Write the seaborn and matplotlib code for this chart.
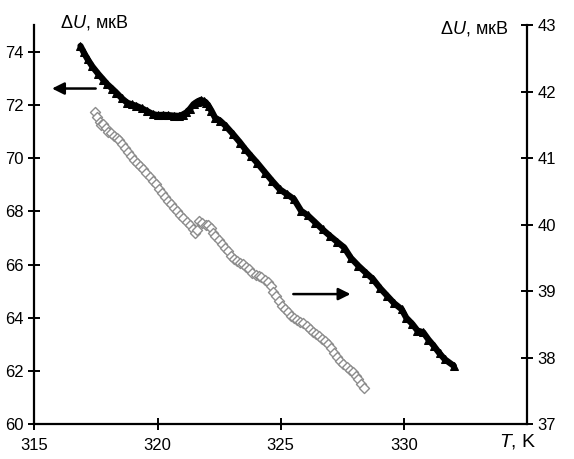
import matplotlib
matplotlib.use("Agg")
import matplotlib.pyplot as plt
import seaborn as sns
import pandas as pd

# ================================
# 1. Data
# ================================
# black triangles -> left axis
t_left = [316.87, 317.00, 317.16, 317.35, 317.60, 317.80, 317.96, 318.15, 318.32, 318.55,
          318.76, 318.95, 319.13, 319.35, 319.56, 319.80, 320.00, 320.22, 320.44, 320.65,
          320.87, 321.02, 321.17, 321.32, 321.46, 321.60, 321.75, 321.88, 321.97, 322.08,
          322.19, 322.33, 322.55, 322.77, 323.05, 323.35, 323.55, 323.79, 324.05, 324.37,
          324.65, 324.96, 325.25, 325.54, 325.83, 326.10, 326.41, 326.70, 327.00, 327.30,
          327.58, 327.85, 328.16, 328.45, 328.75, 329.05, 329.33, 329.60, 329.91, 330.10,
          330.35, 330.55, 330.79, 331.00, 331.22, 331.45, 331.66, 332.03]
u_left = [74.22, 73.98, 73.72, 73.45, 73.16, 72.95, 72.78, 72.62, 72.47, 72.25,
          72.09, 72.02, 71.97, 71.88, 71.78, 71.66, 71.62, 71.63, 71.62, 71.60,
          71.59, 71.64, 71.72, 71.86, 72.03, 72.12, 72.19, 72.15, 72.09, 71.95,
          71.78, 71.53, 71.40, 71.21, 70.92, 70.59, 70.35, 70.09, 69.82, 69.46,
          69.15, 68.83, 68.65, 68.46, 68.02, 67.85, 67.58, 67.32, 67.08, 66.85,
          66.64, 66.25, 65.95, 65.70, 65.45, 65.10, 64.82, 64.55, 64.32, 64.00,
          63.76, 63.52, 63.45, 63.18, 62.94, 62.66, 62.44, 62.19]

# open grey diamonds -> right axis
t_right = [317.45, 317.55, 317.65, 317.72, 317.80, 317.90, 318.00, 318.10, 318.22, 318.35,
           318.45, 318.55, 318.68, 318.80, 318.92, 319.05, 319.18, 319.30, 319.42, 319.55,
           319.68, 319.80, 319.92, 320.05, 320.18, 320.30, 320.42, 320.55, 320.68, 320.80,
           320.92, 321.05, 321.18, 321.30, 321.42, 321.52, 321.60, 321.70, 321.82, 321.95,
           322.05, 322.15, 322.25, 322.35, 322.48, 322.60, 322.72, 322.85, 322.98, 323.10,
           323.22, 323.35, 323.48, 323.60, 323.72, 323.85, 323.98, 324.10, 324.22, 324.35,
           324.48, 324.60, 324.70, 324.80, 324.92, 325.05, 325.18, 325.30, 325.42, 325.55,
           325.68, 325.80, 325.92, 326.05, 326.18, 326.30, 326.42, 326.55, 326.68, 326.80,
           326.92, 327.05, 327.18, 327.30, 327.42, 327.55, 327.68, 327.80, 327.92, 328.05,
           328.15, 328.25, 328.37]
u_right = [41.69, 41.62, 41.55, 41.50, 41.52, 41.45, 41.40, 41.38, 41.34, 41.30,
           41.27, 41.21, 41.16, 41.09, 41.04, 40.98, 40.93, 40.88, 40.84, 40.78,
           40.71, 40.66, 40.61, 40.54, 40.48, 40.41, 40.35, 40.31, 40.25, 40.21,
           40.15, 40.10, 40.04, 39.99, 39.93, 39.88, 39.92, 40.06, 40.03, 40.00,
           39.99, 39.95, 39.88, 39.83, 39.77, 39.71, 39.65, 39.60, 39.53, 39.49,
           39.46, 39.43, 39.41, 39.37, 39.33, 39.28, 39.25, 39.23, 39.21, 39.17,
           39.14, 39.08, 38.99, 38.92, 38.85, 38.78, 38.73, 38.68, 38.63, 38.59,
           38.56, 38.54, 38.52, 38.48, 38.43, 38.39, 38.36, 38.32, 38.28, 38.25,
           38.20, 38.14, 38.07, 38.01, 37.95, 37.90, 37.86, 37.82, 37.78, 37.73,
           37.68, 37.61, 37.55]

x_ticks = [315, 320, 325, 330]
left_ticks = [60, 62, 64, 66, 68, 70, 72, 74]
right_ticks = [37, 38, 39, 40, 41, 42, 43]

df_left = pd.DataFrame({"T": t_left, "U": u_left})
df_right = pd.DataFrame({"T": t_right, "U": u_right})

# ================================
# 2. Style
# ================================
sns.set_style("ticks")
plt.rcParams["font.family"] = ["Liberation Sans", "DejaVu Sans"]
plt.rcParams["mathtext.fontset"] = "custom"
plt.rcParams["mathtext.rm"] = "Liberation Sans"
plt.rcParams["mathtext.it"] = "Liberation Sans:italic"
plt.rcParams["text.color"] = "black"
fs = 12

fig = plt.figure(figsize=(5.74, 4.59), dpi=100)
ax = fig.add_axes([0.06, 0.076, 0.858, 0.869])
ax2 = ax.twinx()

# ================================
# 3. Plot
# ================================
sns.lineplot(data=df_left, x="T", y="U", ax=ax, color="black", lw=4.5,
             marker="^", markersize=5.5, markeredgecolor="black", sort=False)
sns.scatterplot(data=df_right, x="T", y="U", ax=ax2, marker="D", s=26,
                facecolor="white", edgecolor="#8c8c8c", linewidth=1.0)

ax.set_xlim(315, 335)
ax.set_ylim(60, 75)
ax2.set_ylim(37, 43)
ax.set_xticks(x_ticks)
ax.set_yticks(left_ticks)
ax2.set_yticks(right_ticks)
ax.set_xlabel("")
ax.set_ylabel("")
ax2.set_ylabel("")

for a in (ax, ax2):
    a.spines["top"].set_visible(False)
    for s in ("left", "right", "bottom"):
        a.spines[s].set_linewidth(1.6)
        a.spines[s].set_color("black")
    a.tick_params(direction="inout", length=8, width=1.4, labelsize=fs,
                  colors="black", labelcolor="black")
ax.spines["right"].set_visible(False)
ax2.spines["left"].set_visible(False)
ax2.spines["bottom"].set_visible(False)
ax.tick_params(axis="x", pad=6)

# arrows
ax.annotate("", xy=(315.6, 72.62), xytext=(317.6, 72.62),
            arrowprops=dict(arrowstyle="-|>", color="black", lw=1.8, mutation_scale=18))
ax.annotate("", xy=(327.95, 64.89), xytext=(325.4, 64.89),
            arrowprops=dict(arrowstyle="-|>", color="black", lw=1.8, mutation_scale=18))

# labels
fig.text(0.105, 0.952, r"$\Delta U$, мкВ", fontsize=fs + 1, ha="left", va="center")
fig.text(0.885, 0.938, r"$\Delta U$, мкВ", fontsize=fs + 1, ha="right", va="center")
fig.text(0.935, 0.018, r"$T$, K", fontsize=fs + 2, ha="right", va="bottom")

plt.savefig("out.png", dpi=100)
